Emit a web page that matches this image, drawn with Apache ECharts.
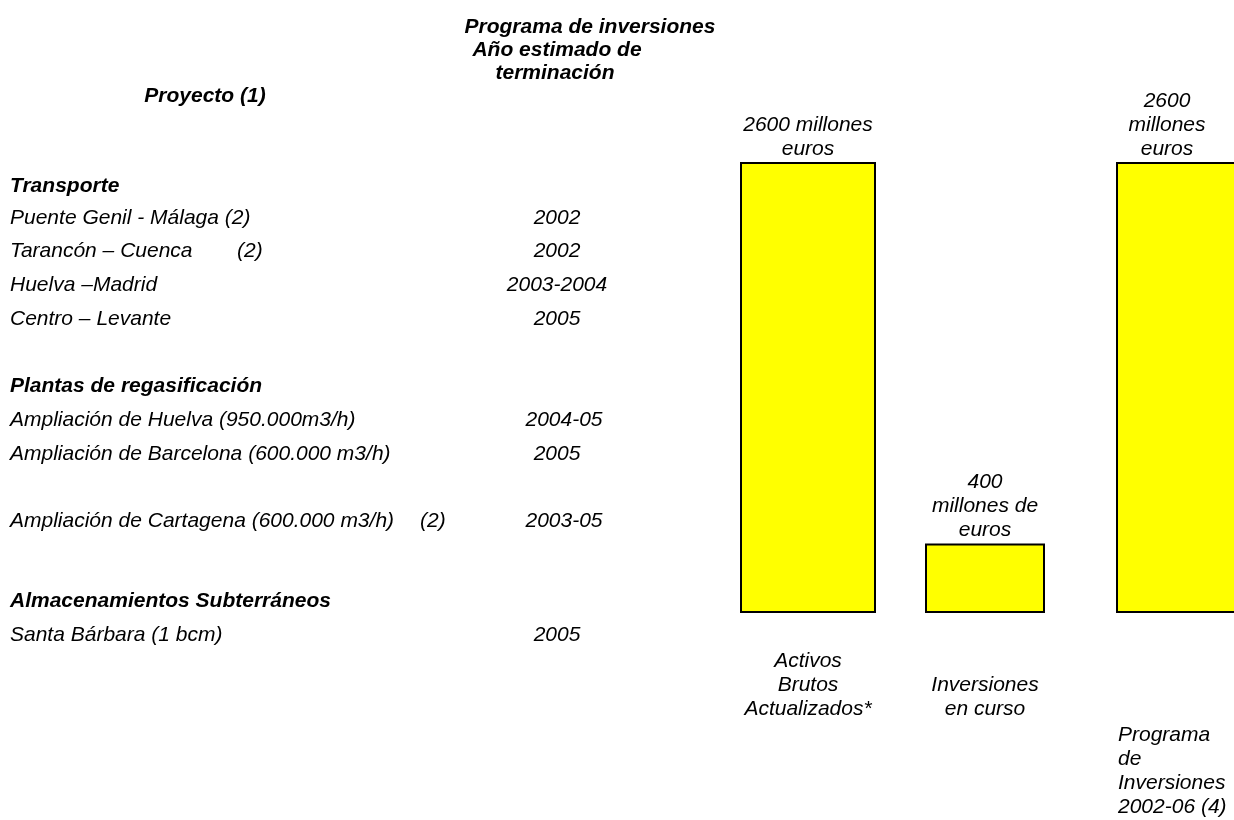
<!DOCTYPE html>
<html>
<head>
<meta charset="utf-8">
<script src="https://cdn.jsdelivr.net/npm/echarts@6/dist/echarts.min.js"></script>
<style>
  html, body { margin: 0; padding: 0; background: #fff; overflow: hidden; }
  #chart { width: 1234px; height: 820px; }
</style>
</head>
<body>
<div id="chart"></div>
<script>
// ---- Project table ----
const headerProject = 'Proyecto (1)';
const headerYear = ['Programa de inversiones', 'Año estimado de', 'terminación'];
const sectionTitles = ['Transporte', 'Plantas de regasificación', 'Almacenamientos Subterráneos'];
const projectNames = [
  'Puente Genil - Málaga (2)',
  'Tarancón – Cuenca',
  'Huelva –Madrid',
  'Centro – Levante',
  'Ampliación de Huelva (950.000m3/h)',
  'Ampliación de Barcelona (600.000 m3/h)',
  'Ampliación de Cartagena (600.000 m3/h)',
  'Santa Bárbara (1 bcm)'
];
const projectNotes = ['', '(2)', '', '', '', '', '(2)', ''];
const completionYears = ['2002', '2002', '2003-2004', '2005', '2004-05', '2005', '2003-05', '2005'];

// ---- Investment bars (millones de euros) ----
const barCategories = ['Activos\nBrutos\nActualizados*', 'Inversiones\nen curso', 'Programa\nde\nInversiones\n2002-06 (4)'];
const barValues = [2600, 400, 2600];
const barLabelTemplates = ['{v} millones\neuros', '{v}\nmillones de\neuros', '{v}\nmillones\neuros'];

// ---- Layout ----
const FONT = '"Liberation Sans", Arial, sans-serif';
const FS = 21;
const sectionY = [186, 386, 601];
const rowY = [218, 251, 285, 319, 420, 454, 521, 635];
const noteX = [0, 237, 0, 0, 0, 0, 420, 0];
const yearX = [557, 557, 557, 557, 564, 557, 564, 557];
const barBoxes = [[740, 136], [925, 120], [1116, 136]]; // left, width
const valueLabelShift = [0, 0, -17];
const gridTop = 162, gridBottom = 613;
const axisLabelMargin = [36, 60, 110];

function txt(x, y, text, opts) {
  opts = opts || {};
  return {
    type: 'text', x: x, y: y, silent: true,
    style: {
      text: text,
      font: (opts.bold ? 'italic bold ' : 'italic ') + FS + 'px ' + FONT,
      fill: '#000',
      textAlign: opts.align || 'left',
      textVerticalAlign: 'middle'
    }
  };
}

const graphics = [];
graphics.push(txt(590, 27, headerYear[0], { bold: true, align: 'center' }));
graphics.push(txt(557, 50, headerYear[1], { bold: true, align: 'center' }));
graphics.push(txt(555, 73, headerYear[2], { bold: true, align: 'center' }));
graphics.push(txt(205, 96, headerProject, { bold: true, align: 'center' }));
sectionTitles.forEach((t, i) => graphics.push(txt(10, sectionY[i], t, { bold: true })));
projectNames.forEach((name, i) => {
  graphics.push(txt(10, rowY[i], name));
  if (projectNotes[i]) graphics.push(txt(noteX[i], rowY[i], projectNotes[i]));
  graphics.push(txt(yearX[i], rowY[i], completionYears[i], { align: 'center' }));
});

const grids = [], xAxes = [], yAxes = [], series = [];
barValues.forEach((v, i) => {
  const [left, width] = barBoxes[i];
  grids.push({
    left: left, width: width, top: gridTop, bottom: 820 - gridBottom,
    containLabel: false, outerBoundsMode: 'none'
  });
  const isLast = i === barValues.length - 1;
  const labelFont = { fontFamily: FONT, fontStyle: 'italic', fontSize: FS, color: '#000', lineHeight: 24 };
  xAxes.push({
    type: 'category', gridIndex: i, data: [barCategories[i]],
    axisLine: { show: false }, axisTick: { show: false },
    axisLabel: Object.assign({
      interval: 0, margin: axisLabelMargin[i], verticalAlign: 'top',
      formatter: isLast
        ? (val) => val.split('\n').map(s => '{p|' + s + '}').join('\n')
        : (val) => val,
      rich: isLast ? { p: Object.assign({ width: 132, align: 'left' }, labelFont) } : undefined
    }, labelFont)
  });
  yAxes.push({ type: 'value', gridIndex: i, min: 0, max: 2600, show: false, splitLine: { show: false } });
  series.push({
    type: 'bar', xAxisIndex: i, yAxisIndex: i, data: [v], barWidth: '100%',
    itemStyle: { color: '#FFFF00', borderColor: '#000', borderWidth: 2 },
    label: Object.assign({
      show: true, position: 'top', distance: 1, offset: [valueLabelShift[i], 0],
      formatter: (p) => barLabelTemplates[i].replace('{v}', p.value)
    }, labelFont),
    silent: true, animation: false
  });
});

const chart = echarts.init(document.getElementById('chart'));
chart.setOption({
  backgroundColor: '#fff',
  animation: false,
  grid: grids, xAxis: xAxes, yAxis: yAxes, series: series,
  graphic: graphics
});
</script>
</body>
</html>
